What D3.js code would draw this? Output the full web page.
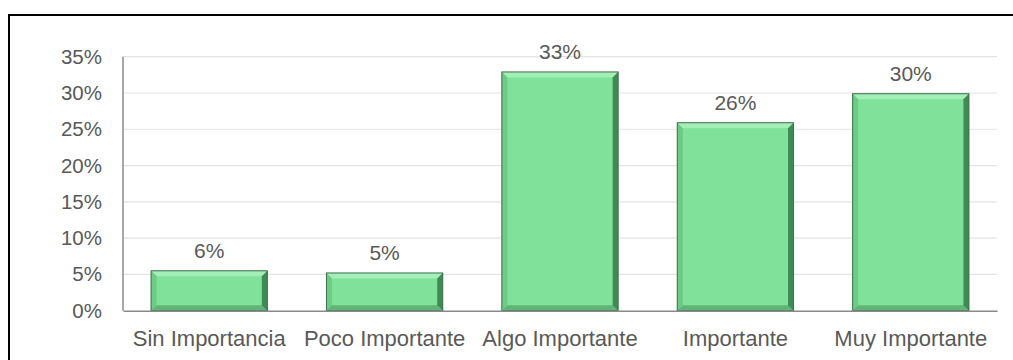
<!DOCTYPE html>
<html>
<head>
<meta charset="utf-8">
<script src="https://cdn.jsdelivr.net/npm/d3@7"></script>
<style>
  html, body { margin: 0; padding: 0; background: #fff; }
  svg { display: block; }
  text { font-family: "Liberation Sans", Arial, sans-serif; fill: #595959; }
</style>
</head>
<body>
<div id="chart"></div>
<script>
const categories = ["Sin Importancia", "Poco Importante", "Algo Importante", "Importante", "Muy Importante"];
const values = [0.055, 0.052, 0.329, 0.259, 0.299];
const valueLabels = ["6%", "5%", "33%", "26%", "30%"];
const yTicks = [0, 0.05, 0.10, 0.15, 0.20, 0.25, 0.30, 0.35];

const W = 1013, H = 360;
const plot = { left: 123, right: 997, top: 56.7, bottom: 310.7 };

const svg = d3.select("#chart").append("svg").attr("width", W).attr("height", H);

// outer frame (only top and left visible in picture)
svg.append("rect")
  .attr("x", 9).attr("y", 15).attr("width", W + 20).attr("height", H + 20)
  .attr("fill", "none").attr("stroke", "#000").attr("stroke-width", 2);

const x = d3.scaleBand().domain(categories).range([plot.left, plot.right])
  .paddingInner(0.337).paddingOuter(0.16);
const y = d3.scaleLinear().domain([0, 0.35]).range([plot.bottom, plot.top]);

// gridlines
svg.append("g").selectAll("line").data(yTicks.filter(d => d > 0)).join("line")
  .attr("x1", plot.left).attr("x2", plot.right)
  .attr("y1", d => y(d)).attr("y2", d => y(d))
  .attr("stroke", "#e3e3e3").attr("stroke-width", 1.2);

// y axis labels
const yAxis = d3.axisLeft(y).tickValues(yTicks).tickFormat(d3.format(".0%")).tickSize(0).tickPadding(21);
const gy = svg.append("g").attr("transform", `translate(${plot.left},0)`).call(yAxis);
gy.select(".domain").remove();
gy.selectAll("text").style("font-size", "20.5px").attr("fill", "#595959")
  .style("font-family", '"Liberation Sans", Arial, sans-serif');

// bars with bevel
const bev = 5.5;
const bars = svg.append("g").selectAll("g").data(categories).join("g");
bars.each(function(c, i) {
  const g = d3.select(this);
  const x0 = x(c), x1 = x(c) + x.bandwidth();
  const y0 = y(values[i]), y1 = y(0);
  g.append("rect").attr("x", x0).attr("y", y0).attr("width", x1 - x0).attr("height", y1 - y0)
    .attr("fill", "#80e19a");
  const poly = (pts, fill) => g.append("polygon").attr("points", pts.map(p => p.join(",")).join(" ")).attr("fill", fill);
  poly([[x0, y0], [x1, y0], [x1 - bev, y0 + bev], [x0 + bev, y0 + bev]], "#a3efb7");
  poly([[x0, y0], [x0 + bev, y0 + bev], [x0 + bev, y1 - bev], [x0, y1]], "#6ccb84");
  poly([[x0, y1], [x0 + bev, y1 - bev], [x1 - bev, y1 - bev], [x1, y1]], "#5fb476");
  poly([[x1, y0], [x1, y1], [x1 - bev, y1 - bev], [x1 - bev, y0 + bev]], "#3f8a55");
  g.append("rect").attr("x", x0).attr("y", y0).attr("width", x1 - x0).attr("height", y1 - y0)
    .attr("fill", "none").attr("stroke", "#3c6e4a").attr("stroke-width", 1);
});

// value labels
svg.append("g").selectAll("text").data(categories).join("text")
  .attr("x", c => x(c) + x.bandwidth() / 2)
  .attr("y", (c, i) => y(values[i]) - 13)
  .attr("text-anchor", "middle")
  .style("font-size", "21px")
  .text((c, i) => valueLabels[i]);

// axes lines
svg.append("line").attr("x1", plot.left).attr("x2", plot.left).attr("y1", plot.top).attr("y2", plot.bottom)
  .attr("stroke", "#8a8a8a").attr("stroke-width", 1.5);
const xAxis = d3.axisBottom(x).tickSize(0).tickPadding(20);
const gx = svg.append("g").attr("transform", `translate(0,${plot.bottom})`).call(xAxis);
gx.select(".domain").attr("stroke", "#8a8a8a").attr("stroke-width", 1.5);
gx.selectAll("text").style("font-size", "22px").attr("fill", "#595959")
  .style("font-family", '"Liberation Sans", Arial, sans-serif');
</script>
</body>
</html>
